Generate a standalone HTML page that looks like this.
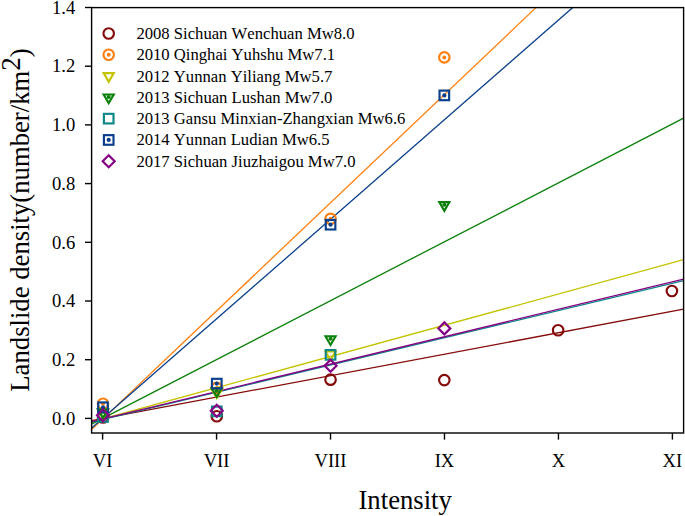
<!DOCTYPE html>
<html><head><meta charset="utf-8"><title>Landslide density vs intensity</title>
<style>
html,body{margin:0;padding:0;background:#fff;}
body{width:685px;height:516px;overflow:hidden;}
svg{display:block;}
text{font-family:"Liberation Serif",serif;fill:#000;font-kerning:none;}
.tk{font-size:18.6px;}
.lg{font-size:16.65px;}
.ti{font-size:26.7px;}
</style></head><body>
<svg width="685" height="516" viewBox="0 0 685 516">
<rect width="685" height="516" fill="#fff"/>
<g fill="none" stroke-width="1.3">
<line x1="91.6" y1="420.6" x2="683.6" y2="309.2" stroke="#850a0a"/>
<line x1="91.6" y1="429.6" x2="536.0" y2="7.6" stroke="#ff7f0e"/>
<line x1="91.6" y1="422.0" x2="683.6" y2="259.7" stroke="#c3c300"/>
<line x1="91.6" y1="424.1" x2="683.6" y2="118.2" stroke="#0a800a"/>
<line x1="91.6" y1="422.1" x2="683.6" y2="280.6" stroke="#0c8686"/>
<line x1="91.6" y1="428.1" x2="572.8" y2="7.6" stroke="#0a3f8c"/>
<line x1="91.6" y1="421.6" x2="683.6" y2="279.2" stroke="#850085"/>
</g>
<g><circle cx="103.00" cy="417.52" r="5.25" fill="none" stroke="#850a0a" stroke-width="2.15"/><circle cx="216.78" cy="416.20" r="5.25" fill="none" stroke="#850a0a" stroke-width="2.15"/><circle cx="330.56" cy="379.66" r="5.25" fill="none" stroke="#850a0a" stroke-width="2.15"/><circle cx="444.34" cy="380.10" r="5.25" fill="none" stroke="#850a0a" stroke-width="2.15"/><circle cx="558.12" cy="330.20" r="5.25" fill="none" stroke="#850a0a" stroke-width="2.15"/><circle cx="671.90" cy="291.02" r="5.25" fill="none" stroke="#850a0a" stroke-width="2.15"/></g>
<g><circle cx="103.00" cy="403.72" r="5.25" fill="none" stroke="#ff7f0e" stroke-width="2.15"/><circle cx="103.00" cy="403.72" r="2.0" fill="#ff7f0e"/><circle cx="216.78" cy="387.88" r="5.25" fill="none" stroke="#ff7f0e" stroke-width="2.15"/><circle cx="216.78" cy="387.88" r="2.0" fill="#ff7f0e"/><circle cx="330.56" cy="218.82" r="5.25" fill="none" stroke="#ff7f0e" stroke-width="2.15"/><circle cx="330.56" cy="218.82" r="2.0" fill="#ff7f0e"/><circle cx="444.34" cy="57.39" r="5.25" fill="none" stroke="#ff7f0e" stroke-width="2.15"/><circle cx="444.34" cy="57.39" r="2.0" fill="#ff7f0e"/></g>
<g><path d="M97.95 409.63L108.05 409.63L103.00 418.33Z" fill="none" stroke="#c3c300" stroke-width="2.15" stroke-linejoin="miter"/><path d="M211.73 389.08L221.83 389.08L216.78 397.78Z" fill="none" stroke="#c3c300" stroke-width="2.15" stroke-linejoin="miter"/><path d="M325.51 351.52L335.61 351.52L330.56 360.22Z" fill="none" stroke="#c3c300" stroke-width="2.15" stroke-linejoin="miter"/></g>
<g><path d="M97.95 409.34L108.05 409.34L103.00 418.04Z" fill="none" stroke="#0a800a" stroke-width="2.15" stroke-linejoin="miter"/><circle cx="103.00" cy="411.84" r="2.0" fill="#0a800a"/><path d="M211.73 388.20L221.83 388.20L216.78 396.90Z" fill="none" stroke="#0a800a" stroke-width="2.15" stroke-linejoin="miter"/><circle cx="216.78" cy="390.70" r="2.0" fill="#0a800a"/><path d="M325.51 336.25L335.61 336.25L330.56 344.95Z" fill="none" stroke="#0a800a" stroke-width="2.15" stroke-linejoin="miter"/><circle cx="330.56" cy="338.75" r="2.0" fill="#0a800a"/><path d="M439.29 202.13L449.39 202.13L444.34 210.83Z" fill="none" stroke="#0a800a" stroke-width="2.15" stroke-linejoin="miter"/><circle cx="444.34" cy="204.63" r="2.0" fill="#0a800a"/></g>
<g><rect x="98.20" y="412.13" width="9.6" height="9.6" fill="none" stroke="#0c8686" stroke-width="2.15"/><rect x="211.98" y="406.56" width="9.6" height="9.6" fill="none" stroke="#0c8686" stroke-width="2.15"/><rect x="325.76" y="350.06" width="9.6" height="9.6" fill="none" stroke="#0c8686" stroke-width="2.15"/></g>
<g><rect x="98.20" y="402.45" width="9.6" height="9.6" fill="none" stroke="#0a3f8c" stroke-width="2.15"/><circle cx="103.00" cy="407.25" r="2.1" fill="#0a3f8c"/><rect x="211.98" y="378.82" width="9.6" height="9.6" fill="none" stroke="#0a3f8c" stroke-width="2.15"/><circle cx="216.78" cy="383.62" r="2.1" fill="#0a3f8c"/><rect x="325.76" y="219.89" width="9.6" height="9.6" fill="none" stroke="#0a3f8c" stroke-width="2.15"/><circle cx="330.56" cy="224.69" r="2.1" fill="#0a3f8c"/><rect x="439.54" y="90.60" width="9.6" height="9.6" fill="none" stroke="#0a3f8c" stroke-width="2.15"/><circle cx="444.34" cy="95.40" r="2.1" fill="#0a3f8c"/></g>
<g><path d="M103.00 409.32L109.00 415.32L103.00 421.32L97.00 415.32Z" fill="none" stroke="#850085" stroke-width="2.15" stroke-linejoin="miter"/><path d="M216.78 404.68L222.78 410.68L216.78 416.68L210.78 410.68Z" fill="none" stroke="#850085" stroke-width="2.15" stroke-linejoin="miter"/><path d="M330.56 359.72L336.56 365.72L330.56 371.72L324.56 365.72Z" fill="none" stroke="#850085" stroke-width="2.15" stroke-linejoin="miter"/><path d="M444.34 322.38L450.34 328.38L444.34 334.38L438.34 328.38Z" fill="none" stroke="#850085" stroke-width="2.15" stroke-linejoin="miter"/></g>
<rect x="91.6" y="7.6" width="592.0" height="425.4" fill="none" stroke="#000" stroke-width="1.4"/>
<g stroke="#000" stroke-width="1.4">
<line x1="85.0" y1="418.40" x2="91.6" y2="418.40"/><line x1="85.0" y1="359.70" x2="91.6" y2="359.70"/><line x1="85.0" y1="301.00" x2="91.6" y2="301.00"/><line x1="85.0" y1="242.30" x2="91.6" y2="242.30"/><line x1="85.0" y1="183.60" x2="91.6" y2="183.60"/><line x1="85.0" y1="124.90" x2="91.6" y2="124.90"/><line x1="85.0" y1="66.20" x2="91.6" y2="66.20"/><line x1="85.0" y1="7.50" x2="91.6" y2="7.50"/><line x1="102.60" y1="433.0" x2="102.60" y2="439.6"/><line x1="216.56" y1="433.0" x2="216.56" y2="439.6"/><line x1="330.52" y1="433.0" x2="330.52" y2="439.6"/><line x1="444.48" y1="433.0" x2="444.48" y2="439.6"/><line x1="558.44" y1="433.0" x2="558.44" y2="439.6"/><line x1="672.40" y1="433.0" x2="672.40" y2="439.6"/>
</g>
<g class="tk" text-anchor="end">
<text x="75.2" y="424.60">0.0</text><text x="75.2" y="365.90">0.2</text><text x="75.2" y="307.20">0.4</text><text x="75.2" y="248.50">0.6</text><text x="75.2" y="189.80">0.8</text><text x="75.2" y="131.10">1.0</text><text x="75.2" y="72.40">1.2</text><text x="75.2" y="13.70">1.4</text>
</g>
<g class="tk" text-anchor="middle">
<text x="102.60" y="466.8">VI</text><text x="216.56" y="466.8">VII</text><text x="330.52" y="466.8">VIII</text><text x="444.48" y="466.8">IX</text><text x="558.44" y="466.8">X</text><text x="672.40" y="466.8">XI</text>
</g>
<g class="lg">
<circle cx="108.70" cy="33.45" r="5.25" fill="none" stroke="#850a0a" stroke-width="2.15"/><text x="136.4" y="38.95">2008 Sichuan Wenchuan Mw8.0</text>
<circle cx="108.70" cy="54.75" r="5.25" fill="none" stroke="#ff7f0e" stroke-width="2.15"/><circle cx="108.70" cy="54.75" r="2.0" fill="#ff7f0e"/><text x="136.4" y="60.25">2010 Qinghai Yuhshu Mw7.1</text>
<path d="M103.65 73.15L113.75 73.15L108.70 81.85Z" fill="none" stroke="#c3c300" stroke-width="2.15" stroke-linejoin="miter"/><text x="136.4" y="81.55">2012 Yunnan Yiliang Mw5.7</text>
<path d="M103.65 94.45L113.75 94.45L108.70 103.15Z" fill="none" stroke="#0a800a" stroke-width="2.15" stroke-linejoin="miter"/><circle cx="108.70" cy="96.95" r="2.0" fill="#0a800a"/><text x="136.4" y="102.85">2013 Sichuan Lushan Mw7.0</text>
<rect x="103.90" y="113.85" width="9.6" height="9.6" fill="none" stroke="#0c8686" stroke-width="2.15"/><text x="136.4" y="124.15">2013 Gansu Minxian-Zhangxian Mw6.6</text>
<rect x="103.90" y="135.15" width="9.6" height="9.6" fill="none" stroke="#0a3f8c" stroke-width="2.15"/><circle cx="108.70" cy="139.95" r="2.1" fill="#0a3f8c"/><text x="136.4" y="145.45">2014 Yunnan Ludian Mw6.5</text>
<path d="M108.70 155.25L114.70 161.25L108.70 167.25L102.70 161.25Z" fill="none" stroke="#850085" stroke-width="2.15" stroke-linejoin="miter"/><text x="136.4" y="166.75">2017 Sichuan Jiuzhaigou Mw7.0</text>
</g>
<text class="ti" x="405.2" y="508.9" text-anchor="middle">Intensity</text>
<text class="ti" transform="translate(29.2 391.7) rotate(-90)">Landslide density(number/km<tspan dy="-9" font-size="27">2</tspan><tspan dy="9">)</tspan></text>
</svg>
</body></html>
